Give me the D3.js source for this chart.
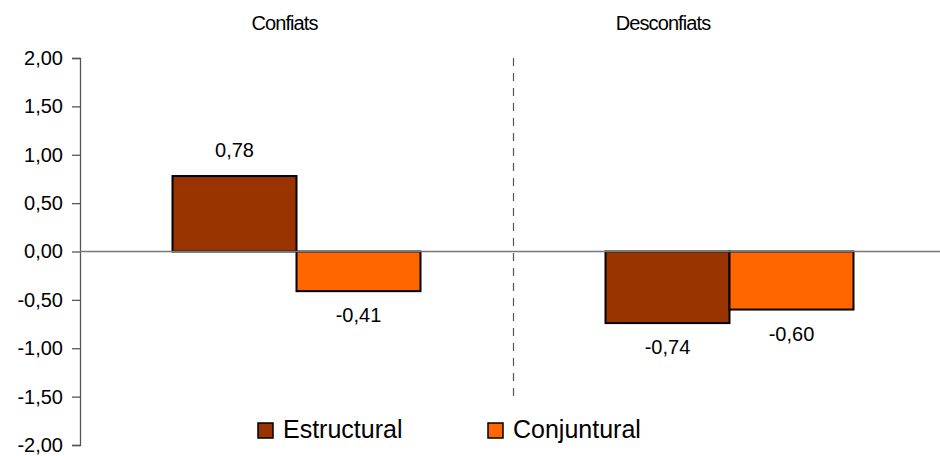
<!DOCTYPE html>
<html>
<head>
<meta charset="utf-8">
<script src="https://cdn.jsdelivr.net/npm/d3@7"></script>
<style>
  html, body { margin: 0; padding: 0; background: #fff; }
  svg { display: block; font-family: "Liberation Sans", Arial, sans-serif; }
</style>
</head>
<body>
<svg id="chart" width="940" height="456"></svg>
<script>
const categories = ["Confiats", "Desconfiats"];
const seriesNames = ["Estructural", "Conjuntural"];
const estructural = [0.78, -0.74];
const conjuntural = [-0.41, -0.60];
const yTicks = [2.0, 1.5, 1.0, 0.5, 0.0, -0.5, -1.0, -1.5, -2.0];
const colors = ["#993300", "#FF6600"];

(function () {
const svg = d3.select("#chart");
const mLeft = 80, mRight = 946, mTop = 58, mBottom = 445;

const y = d3.scaleLinear().domain([-2, 2]).range([mBottom, mTop]);
const x0 = d3.scaleBand().domain(categories).range([mLeft, mRight]).padding(0);
const x1 = d3.scaleBand().domain(seriesNames).range([0, x0.bandwidth()])
  .paddingInner(0).paddingOuter(0.746);

const fmt = v => d3.format(".2f")(v).replace(".", ",").replace("−", "-");

// y axis
const yAxis = d3.axisLeft(y).tickValues(yTicks).tickSize(8).tickPadding(9)
  .tickFormat(fmt);
const gy = svg.append("g").attr("transform", `translate(${mLeft},0)`).call(yAxis);
gy.select(".domain").attr("stroke", "#555").attr("stroke-width", 1.3);
gy.selectAll(".tick line").attr("stroke", "#555").attr("stroke-width", 1.3);
gy.selectAll(".tick text").attr("font-size", 20).attr("fill", "#000")
  .style("font-family", '"Liberation Sans", Arial, sans-serif');

// category separator (dashed)
svg.append("line")
  .attr("x1", x0("Desconfiats") + 0.5).attr("x2", x0("Desconfiats") + 0.5)
  .attr("y1", mTop).attr("y2", mBottom)
  .attr("stroke", "#555").attr("stroke-width", 1.2)
  .attr("stroke-dasharray", "8,7");

// bars
const rows = categories.map((c, i) => ({ cat: c, vals: [estructural[i], conjuntural[i]] }));
const groups = svg.selectAll(".grp").data(rows).enter().append("g")
  .attr("transform", d => `translate(${x0(d.cat)},0)`);

groups.selectAll("rect").data(d => d.vals.map((v, j) => ({ v, s: seriesNames[j], j })))
  .enter().append("rect")
  .attr("x", d => x1(d.s))
  .attr("width", x1.bandwidth())
  .attr("y", d => y(Math.max(0, d.v)))
  .attr("height", d => Math.abs(y(d.v) - y(0)))
  .attr("fill", d => colors[d.j])
  .attr("stroke", "#000").attr("stroke-width", 2);

groups.selectAll("text.val").data(d => d.vals.map((v, j) => ({ v, s: seriesNames[j], j })))
  .enter().append("text").attr("class", "val")
  .attr("x", d => x1(d.s) + x1.bandwidth() / 2)
  .attr("y", d => d.v >= 0 ? y(d.v) - 19.5 : y(d.v) + 31)
  .attr("text-anchor", "middle")
  .attr("font-size", 20).attr("fill", "#000")
  .text(d => fmt(d.v));

// zero line
svg.append("line")
  .attr("x1", mLeft).attr("x2", 940)
  .attr("y1", y(0)).attr("y2", y(0))
  .attr("stroke", "#777").attr("stroke-width", 1.3);

// category labels
const catPos = [284.5, 663];
svg.selectAll("text.cat").data(categories).enter().append("text")
  .attr("class", "cat")
  .attr("x", (d, i) => catPos[i]).attr("y", 30)
  .attr("text-anchor", "middle")
  .attr("font-size", 20).attr("fill", "#000")
  .attr("letter-spacing", -0.9)
  .text(d => d);

// legend (white box hides the separator beneath it)
svg.append("rect").attr("x", 245).attr("y", 400).attr("width", 405).attr("height", 52)
  .attr("fill", "#fff");
const legX = [258, 488];
const leg = svg.selectAll(".leg").data(seriesNames).enter().append("g")
  .attr("transform", (d, i) => `translate(${legX[i]},423)`);
leg.append("rect").attr("width", 15).attr("height", 15)
  .attr("fill", (d, i) => colors[i]).attr("stroke", "#000").attr("stroke-width", 1.5);
leg.append("text").attr("x", 25).attr("y", 15)
  .attr("font-size", 25).attr("fill", "#000").text(d => d);
})();
</script>
</body>
</html>
